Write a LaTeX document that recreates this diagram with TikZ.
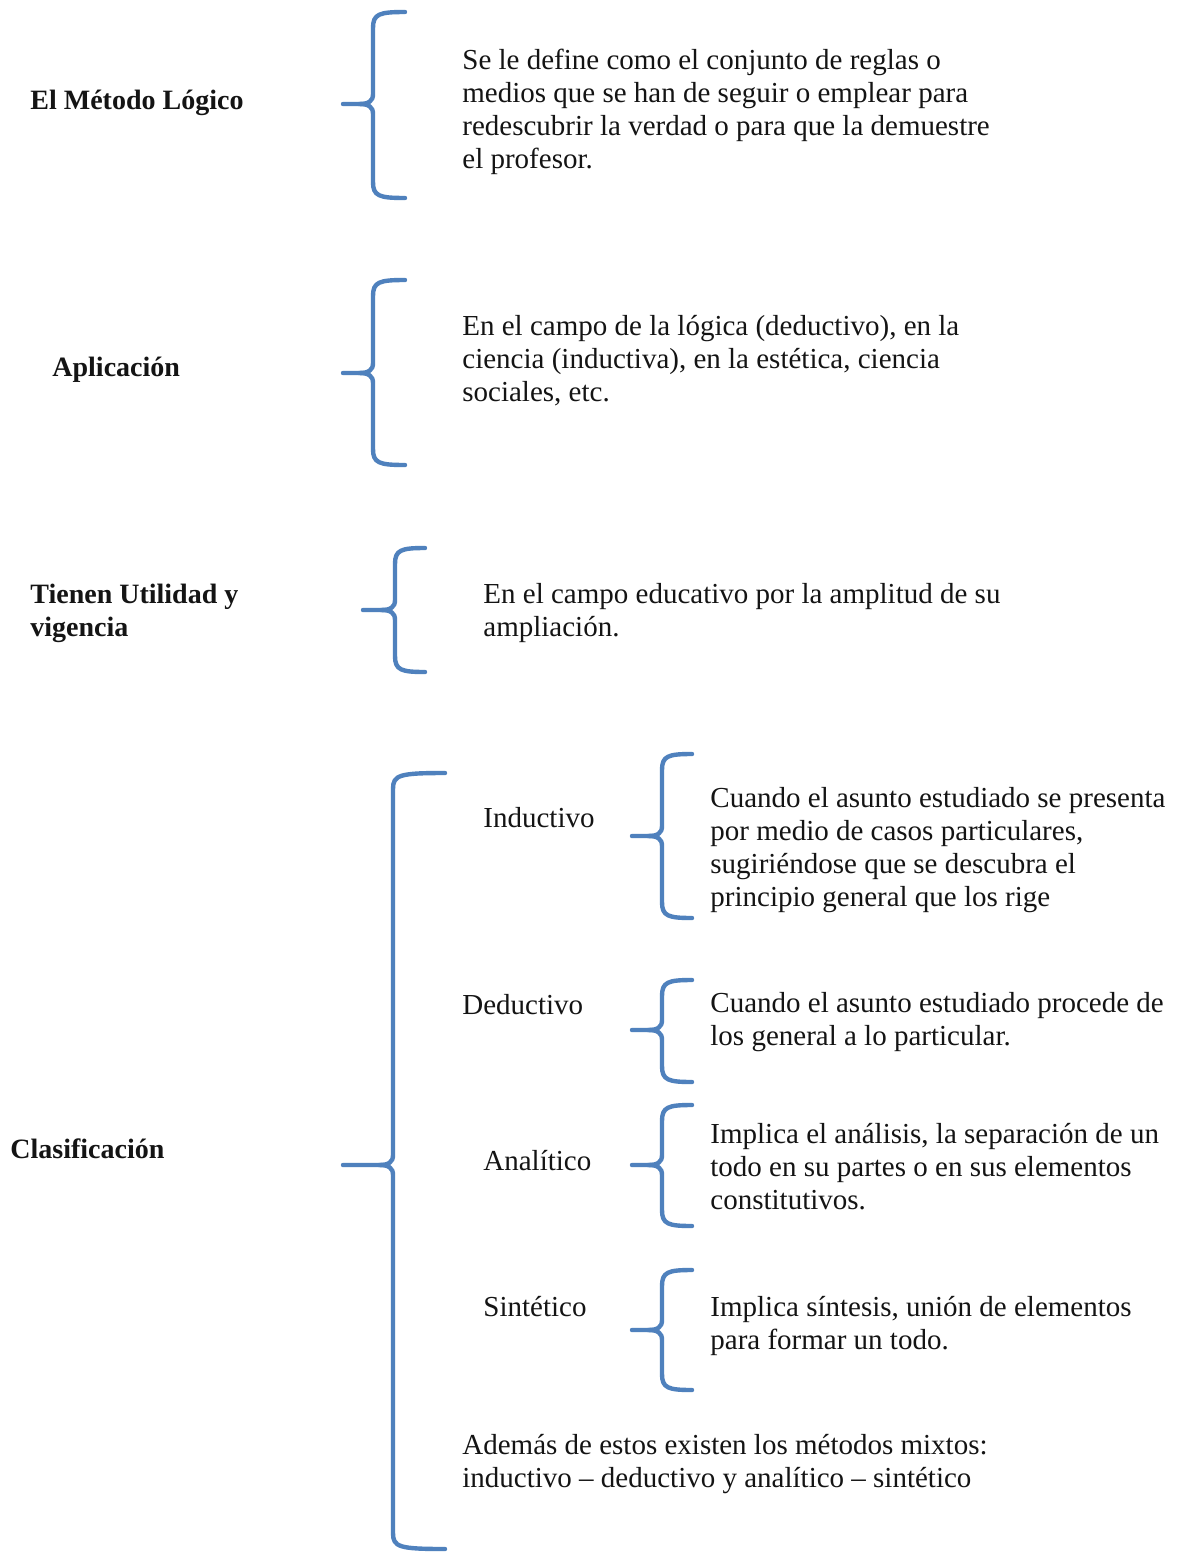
\documentclass[tikz,border=0pt]{standalone}
\usepackage{fontspec}
\setmainfont{Liberation Serif}
\definecolor{bracecol}{RGB}{79,129,189}
\definecolor{txtcol}{RGB}{20,20,20}
\newcommand\mybrace[6]{%
  \draw[bluebrace] (#6,#2) .. controls (#1+6,#2) and (#1,#2+2) .. (#1,#2+16) -- (#1,#3-10) .. controls (#1,#3-3) and (#1-4,#3) .. (#1-14,#3) -- (#5,#3);
  \draw[bluebrace] (#6,#4) .. controls (#1+6,#4) and (#1,#4-2) .. (#1,#4-16) -- (#1,#3+10) .. controls (#1,#3+3) and (#1-4,#3) .. (#1-14,#3);
}
\begin{document}
\begin{tikzpicture}[x=0.5pt,y=-0.5pt,
  bluebrace/.style={draw=bracecol,line width=2.2pt,line cap=round,line join=round},
  lbl/.style={anchor=base west,inner sep=0pt,text=txtcol,font=\fontsize{14}{16.5}\selectfont\bfseries},
  sublbl/.style={anchor=base west,inner sep=0pt,text=txtcol,font=\fontsize{14.5}{16.5}\selectfont},
  desc/.style={anchor=north west,inner sep=0pt,align=left,text=txtcol,font=\fontsize{14.5}{16.5}\selectfont}]
\useasboundingbox[fill=white] (0,0) rectangle (1179,1553);

% Section 1
\node[lbl] (l1) at (30,109) {El Método Lógico};
\mybrace{373}{12}{104}{198}{343}{405}
\node[desc] (d1) at (462,46) {\strut Se le define como el conjunto de reglas o\\\strut medios que se han de seguir o emplear para\\\strut redescubrir la verdad o para que la demuestre\\\strut el profesor.};

% Section 2
\node[lbl] (l2) at (52,376) {Aplicación};
\mybrace{373}{280}{373}{465}{343}{405}
\node[desc] (d2) at (462,312) {\strut En el campo de la lógica (deductivo), en la\\\strut ciencia (inductiva), en la estética, ciencia\\\strut sociales, etc.};

% Section 3
\node[desc,font=\fontsize{14}{16.5}\selectfont\bfseries] (l3) at (30,580) {\strut Tienen Utilidad y\\\strut vigencia};
\mybrace{395}{548}{610}{672}{363}{425}
\node[desc] (d3) at (483,580) {\strut En el campo educativo por la amplitud de su\\\strut ampliación.};

% Section 4
\node[lbl] (l4) at (10,1158) {Clasificación};
\mybrace{393}{773}{1165}{1549}{343}{445}

\node[sublbl] (s1) at (483,827) {Inductivo};
\mybrace{662}{754}{836}{918}{632}{692}
\node[desc] (t1) at (710,784) {\strut Cuando el asunto estudiado se presenta\\\strut por medio de casos particulares,\\\strut sugiriéndose que se descubra el\\\strut principio general que los rige};

\node[sublbl] (s2) at (462,1014) {Deductivo};
\mybrace{662}{980}{1030}{1082}{632}{692}
\node[desc] (t2) at (710,989) {\strut Cuando el asunto estudiado procede de\\\strut los general a lo particular.};

\node[sublbl] (s3) at (483,1170) {Analítico};
\mybrace{662}{1105}{1165}{1226}{632}{692}
\node[desc] (t3) at (710,1120) {\strut Implica el análisis, la separación de un\\\strut todo en su partes o en sus elementos\\\strut constitutivos.};

\node[sublbl] (s4) at (483,1316) {Sintético};
\mybrace{662}{1270}{1330}{1390}{632}{692}
\node[desc] (t4) at (710,1293) {\strut Implica síntesis, unión de elementos\\\strut para formar un todo.};

\node[desc] (t5) at (462,1431) {\strut Además de estos existen los métodos mixtos:\\\strut inductivo – deductivo y analítico – sintético};
\end{tikzpicture}
\end{document}
